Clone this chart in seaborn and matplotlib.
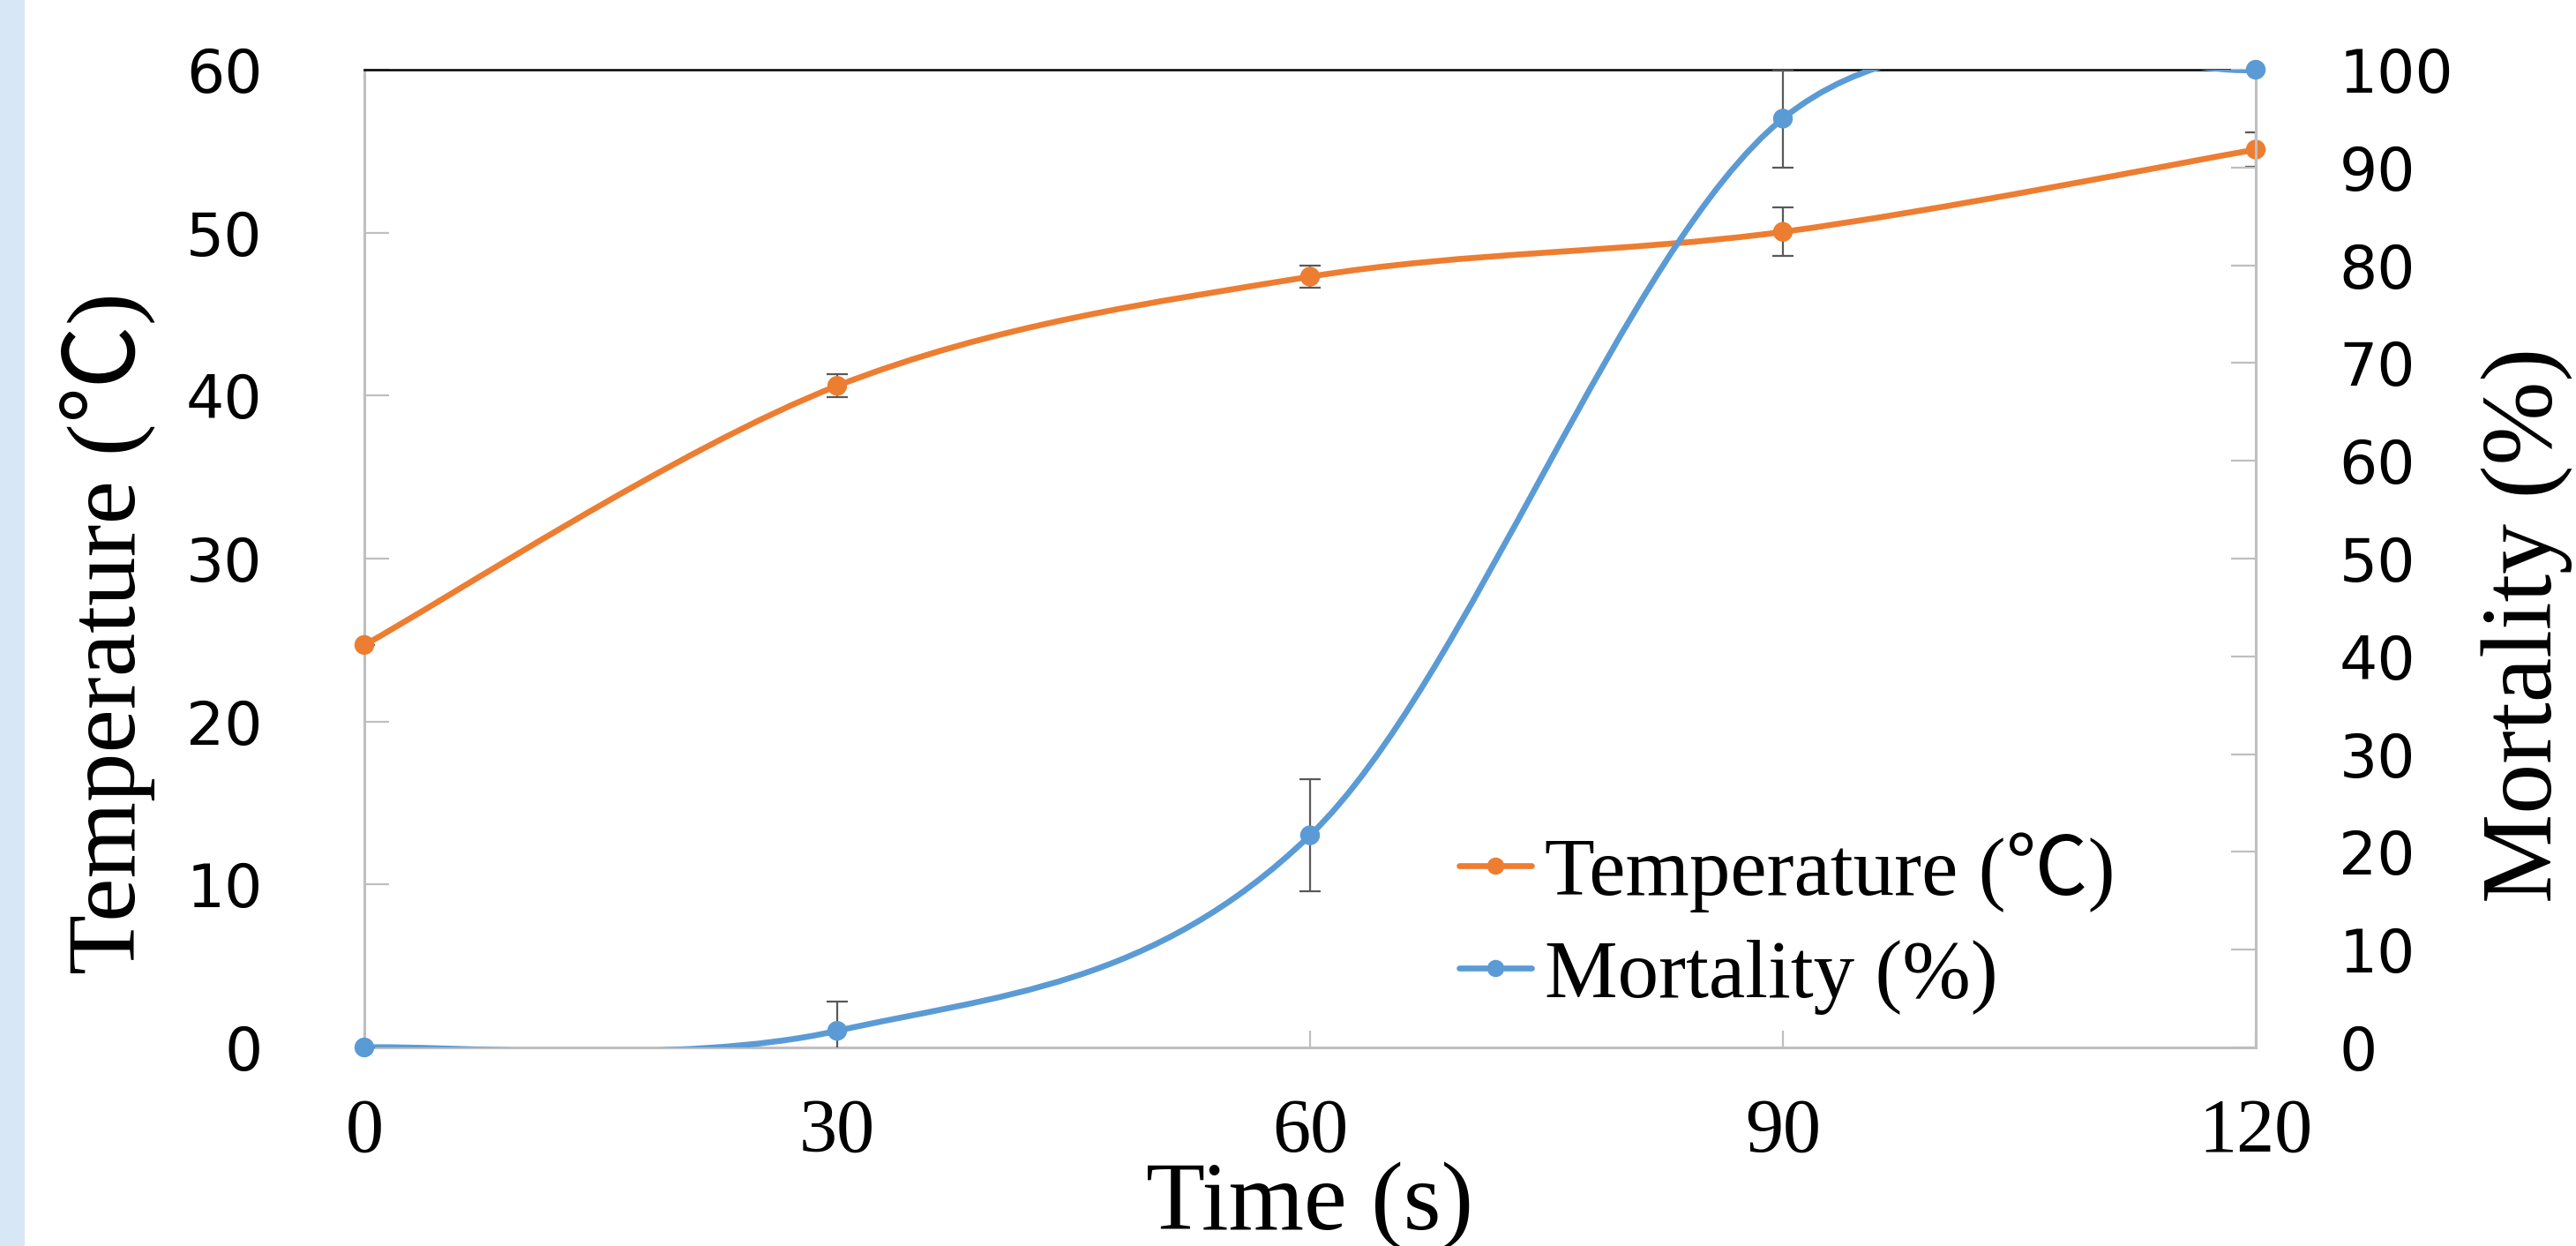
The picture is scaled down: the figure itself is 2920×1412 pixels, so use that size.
import numpy as np
import pandas as pd
import seaborn as sns
import matplotlib
matplotlib.use("Agg")
import matplotlib.pyplot as plt
from matplotlib.path import Path
from matplotlib.patches import PathPatch, Rectangle
from matplotlib.lines import Line2D

# ---------------- data ----------------
time_s = [0, 30, 60, 90, 120]
temperature = [24.7, 40.6, 47.3, 50.05, 55.1]
temperature_err = [0.0, 0.7, 0.7, 1.5, 1.05]
mortality = [0.0, 1.7, 21.7, 95.0, 100.0]
mortality_err = [0.0, 3.0, 5.7, 5.0, 0.0]
x_ticks = [0, 30, 60, 90, 120]
temp_ticks = [0, 10, 20, 30, 40, 50, 60]
mort_ticks = [0, 10, 20, 30, 40, 50, 60, 70, 80, 90, 100]
temp_label = "Temperature (℃)"
mort_label = "Mortality (%)"
x_label = "Time (s)"

df = pd.DataFrame({"time": time_s, "temp": temperature, "temp_err": temperature_err,
                   "mort": mortality, "mort_err": mortality_err})

ORANGE = "#ED7D31"
BLUE = "#5B9BD5"
GRID = "#BFBFBF"
ERR = "#595959"
SERIF = ["Liberation Serif", "Noto Sans CJK SC", "DejaVu Sans"]

sns.set_theme(style="white")
plt.rcParams["font.family"] = ["DejaVu Sans"]
plt.rcParams["text.color"] = "black"
plt.rcParams["axes.labelcolor"] = "black"
plt.rcParams["xtick.labelcolor"] = "black"
plt.rcParams["ytick.labelcolor"] = "black"


def smooth_path(xs, ys):
    """Excel-style smoothed line rendered as cubic Bezier segments through the points."""
    pts = np.column_stack([np.asarray(xs, float), np.asarray(ys, float)])
    n = len(pts)
    verts = [pts[0]]
    codes = [Path.MOVETO]
    for i in range(n - 1):
        p0 = pts[i - 1] if i > 0 else pts[i]
        p1 = pts[i]
        p2 = pts[i + 1]
        p3 = pts[i + 2] if i + 2 < n else pts[i + 1]
        verts += [p1 + (p2 - p0) / 6.0, p2 - (p3 - p1) / 6.0, p2]
        codes += [Path.CURVE4] * 3
    return Path(verts, codes)


fig = plt.figure(figsize=(29.2, 14.12), dpi=100)
fig.patches.append(Rectangle((0, 0), 28 / 2920, 1, transform=fig.transFigure,
                             facecolor="#d8e7f5", edgecolor="none", zorder=0))
ax = fig.add_axes([413 / 2920, 1 - 1187 / 1412, (2557 - 413) / 2920, (1187 - 79) / 1412])
ax2 = ax.twinx()

# temperature (left axis)
ax.add_patch(PathPatch(smooth_path(df["time"], df["temp"]), facecolor="none",
                       edgecolor=ORANGE, lw=4.8, zorder=3, capstyle="round"))
ax.errorbar(df["time"], df["temp"], yerr=df["temp_err"], fmt="none", ecolor=ERR,
            elinewidth=1.6, capsize=8.5, capthick=1.6, zorder=2)
sns.scatterplot(data=df, x="time", y="temp", ax=ax, color=ORANGE, s=260,
                edgecolor="none", zorder=4, clip_on=False, legend=False)

# mortality (right axis)
ax2.add_patch(PathPatch(smooth_path(df["time"], df["mort"]), facecolor="none",
                        edgecolor=BLUE, lw=4.8, zorder=3, capstyle="round"))
ax2.errorbar(df["time"], df["mort"], yerr=df["mort_err"], fmt="none", ecolor=ERR,
             elinewidth=1.6, capsize=8.5, capthick=1.6, zorder=2)
sns.scatterplot(data=df, x="time", y="mort", ax=ax2, color=BLUE, s=260,
                edgecolor="none", zorder=4, clip_on=False, legend=False)

ax.set_xlim(0, 120)
ax.set_ylim(0, 60)
ax2.set_ylim(0, 100)
ax.set_xticks(x_ticks)
ax.set_yticks(temp_ticks)
ax2.set_yticks(mort_ticks)

# spines
for a in (ax, ax2):
    for s in a.spines.values():
        s.set_visible(False)
ax.spines["left"].set_visible(True)
ax.spines["bottom"].set_visible(True)
ax.spines["top"].set_visible(True)
ax2.spines["right"].set_visible(True)
for s in (ax.spines["left"], ax.spines["bottom"], ax2.spines["right"]):
    s.set_color(GRID)
    s.set_linewidth(2.2)
ax.spines["top"].set_color("black")
ax.spines["top"].set_linewidth(1.8)

ax.tick_params(axis="y", direction="in", length=20, width=1.6, color=GRID,
               labelsize=49, pad=83, left=True, labelcolor="black")
ax.tick_params(axis="x", direction="in", length=14, width=1.6, color=GRID,
               labelsize=62, pad=41, bottom=True, labelcolor="black")
ax2.tick_params(axis="y", direction="in", length=20, width=1.6, color=GRID,
                labelsize=49, pad=68, right=True, labelcolor="black")
for lab in ax.get_xticklabels():
    lab.set_fontfamily(SERIF)

ax.set_xlabel(x_label, fontsize=79, fontfamily=SERIF, color="black")
ax.xaxis.set_label_coords(0.5, -0.1625)
ax.xaxis.label.set_va("center")
ax.set_ylabel(temp_label, fontsize=80, fontfamily=SERIF, color="black")
ax.yaxis.set_label_coords(-0.136, 0.424)
ax.yaxis.label.set_va("center")
ax2.set_ylabel(mort_label, fontsize=82, fontfamily=SERIF, color="black")
ax2.yaxis.set_label_coords(1.143, 0.432)
ax2.yaxis.label.set_va("center")

handles = [Line2D([], [], color=ORANGE, lw=4.8, marker="o", ms=13),
           Line2D([], [], color=BLUE, lw=4.8, marker="o", ms=13)]
leg = ax2.legend(handles, [temp_label, mort_label], loc="center left",
                 bbox_to_anchor=(0.579, 0.127), frameon=False, borderpad=0,
                 borderaxespad=0, handlelength=0.88, handletextpad=0.16,
                 labelspacing=0.33, prop={"family": SERIF, "size": 67})
for t in leg.get_texts():
    t.set_color("black")

fig.savefig("out.png", dpi=100)
